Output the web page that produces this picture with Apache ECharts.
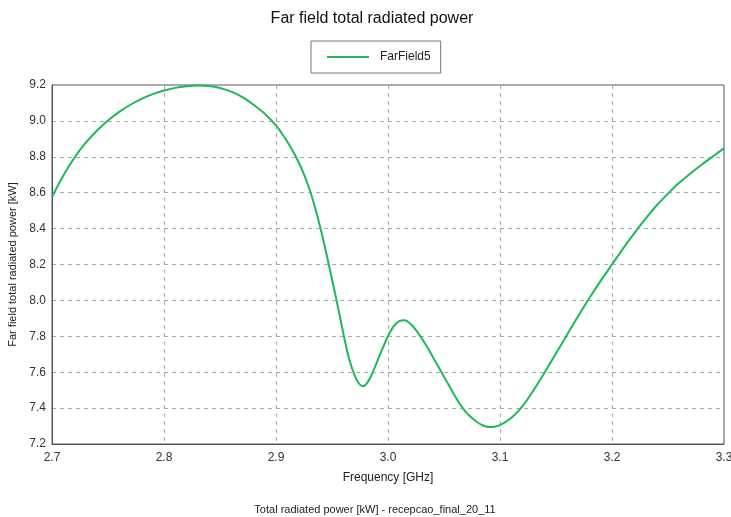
<!DOCTYPE html>
<html><head><meta charset="utf-8">
<script src="https://cdn.jsdelivr.net/npm/echarts@6/dist/echarts.min.js"></script>
<style>html,body{margin:0;padding:0;background:#fff}#c{width:731px;height:517px}</style>
</head><body><div id="c"></div>
<script>
const seriesName = 'FarField5';
const freq = [2.70,2.71,2.72,2.73,2.74,2.75,2.76,2.77,2.78,2.79,2.80,2.81,2.82,2.83,2.84,2.85,2.86,2.87,2.88,2.89,
  2.900,2.905,2.910,2.915,2.920,2.925,2.930,2.935,2.940,2.945,2.950,2.955,2.960,2.965,2.970,2.974,2.9775,2.981,2.985,2.990,2.995,
  3.000,3.005,3.010,3.015,3.020,3.025,3.030,3.035,3.040,3.045,3.050,3.055,3.060,3.065,3.070,3.075,3.080,3.085,3.090,3.095,
  3.10,3.11,3.12,3.13,3.14,3.15,3.16,3.17,3.18,3.19,3.20,3.21,3.22,3.23,3.24,3.25,3.26,3.27,3.28,3.29,3.30];
const power = [8.576,8.695,8.795,8.877,8.945,9.002,9.05,9.09,9.123,9.149,9.169,9.184,9.193,9.197,9.194,9.183,9.163,9.133,9.09,9.04,
  8.975,8.9325,8.885,8.8325,8.7725,8.7025,8.6175,8.515,8.395,8.26,8.1175,7.9725,7.82,7.68,7.585,7.537,7.522,7.537,7.58,7.655,7.73,
  7.80,7.855,7.885,7.89,7.87,7.835,7.79,7.74,7.685,7.63,7.575,7.52,7.465,7.415,7.375,7.345,7.32,7.303,7.295,7.296,
  7.305,7.345,7.41,7.50,7.60,7.705,7.81,7.915,8.015,8.11,8.20,8.29,8.375,8.455,8.53,8.595,8.655,8.707,8.756,8.802,8.847];
const xTicks = [2.7,2.8,2.9,3.0,3.1,3.2,3.3];
const yTicks = [7.2,7.4,7.6,7.8,8.0,8.2,8.4,8.6,8.8,9.0,9.2];
const titleText = 'Far field total radiated power';
const xName = 'Frequency [GHz]';
const yName = 'Far field total radiated power [kW]';
const footer = 'Total radiated power [kW] - recepcao_final_20_11';

const chart = echarts.init(document.getElementById('c'), null, {renderer:'canvas'});
const font = 'Liberation Sans, Arial, sans-serif';
chart.setOption({
  animation:false,
  backgroundColor:'#fff',
  title:[
    {text:titleText,left:372,textAlign:'center',top:11,padding:0,textStyle:{fontFamily:font,fontSize:16,fontWeight:'normal',color:'#111'}},
    {text:footer,left:375,textAlign:'center',top:504,padding:0,textStyle:{fontFamily:font,fontSize:11,fontWeight:'normal',color:'#222'}}
  ],
  legend:{
    data:[seriesName],left:311,top:41,icon:'rect',
    borderColor:'#777',borderWidth:1,borderRadius:0,
    padding:[10,10,10,16],itemWidth:42,itemHeight:2,itemGap:12,
    textStyle:{fontFamily:font,fontSize:12,color:'#222',padding:[0,0,0,6]}
  },
  grid:{left:52,right:7,top:85,bottom:73,show:true,borderColor:'#555',borderWidth:1,outerBoundsMode:'none',containLabel:false},
  xAxis:{
    type:'value',min:xTicks[0],max:xTicks[xTicks.length-1],interval:0.1,
    name:xName,nameLocation:'middle',nameGap:28,
    nameTextStyle:{fontFamily:font,fontSize:12,color:'#222'},
    axisLine:{show:true,lineStyle:{color:'#555'}},
    axisTick:{show:false},
    axisLabel:{fontFamily:font,fontSize:12,color:'#333',margin:8,formatter:v=>v.toFixed(1)},
    splitLine:{show:true,lineStyle:{color:'#aaa',type:[4,4],width:1}}
  },
  yAxis:{
    type:'value',min:yTicks[0],max:yTicks[yTicks.length-1],interval:0.2,
    name:yName,nameLocation:'middle',nameGap:28,
    nameTextStyle:{fontFamily:font,fontSize:11,color:'#222'},
    axisLine:{show:true,lineStyle:{color:'#555'}},
    axisTick:{show:false},
    axisLabel:{fontFamily:font,fontSize:12,color:'#333',margin:6,formatter:v=>v.toFixed(1)},
    splitLine:{show:true,lineStyle:{color:'#aaa',type:[4,4],width:1}}
  },
  series:[{
    name:seriesName,type:'line',showSymbol:false,symbol:'none',smooth:0.3,
    data:freq.map((f,i)=>[f,power[i]]),
    lineStyle:{color:'#1fb85a',width:2},itemStyle:{color:'#1fb85a'}
  }]
});
</script></body></html>
